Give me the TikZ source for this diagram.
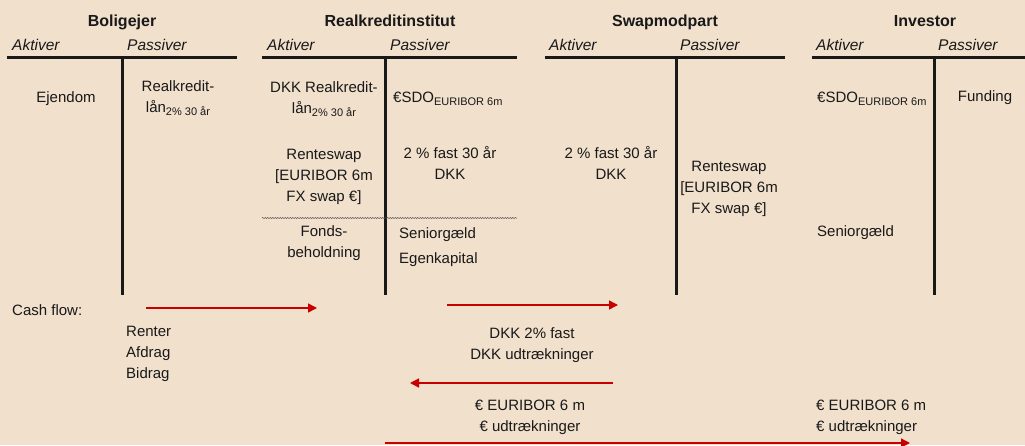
\documentclass[tikz,border=0pt]{standalone}
\usepackage{fontspec}
\setmainfont{Liberation Sans}
\usetikzlibrary{arrows.meta,decorations.pathmorphing}
\definecolor{paper}{RGB}{240,224,204}
\definecolor{flowred}{RGB}{200,0,0}
\definecolor{ink}{RGB}{25,25,25}
\newcommand{\lowtxt}[1]{\raisebox{-3.5pt}{\fontsize{11}{11}\selectfont #1}}

\begin{document}
\begin{tikzpicture}[x=1pt,y=-1pt,
  every node/.style={font=\fontsize{15}{21}\selectfont,text=ink,inner sep=0pt},
  title/.style={font=\fontsize{16}{18}\selectfont\bfseries,anchor=base},
  side/.style={font=\fontsize{15.5}{18}\selectfont\itshape,anchor=base west},
  item/.style={anchor=base,align=center},
  itemw/.style={anchor=base west,align=left},
  tline/.style={line width=3pt,ink},
  flow/.style={flowred,line width=1.4pt,-{Triangle[length=9pt,width=9pt]}}]
  \fill[paper] (0,0) rectangle (1025,445);
  \useasboundingbox (0,0) rectangle (1025,445);
  % T-accounts
  \foreach \xl/\xm/\xr in {7/122/237,262/385/517,545/676/785,812/934/1025}{
    \draw[tline] (\xl,57)--(\xr,57);
    \draw[tline] (\xm,57)--(\xm,295);
  }
  \node[title] (bolig) at (122,26) {Boligejer};
  \node[title] (rki) at (390,26) {Realkreditinstitut};
  \node[title] (swp) at (665,26) {Swapmodpart};
  \node[title] (inv) at (925,26) {Investor};
  \node[side] (boligA) at (12,50) {Aktiver};
  \node[side] (boligP) at (127,50) {Passiver};
  \node[side] (rkiA) at (267,50) {Aktiver};
  \node[side] (rkiP) at (390,50) {Passiver};
  \node[side] (swpA) at (549,50) {Aktiver};
  \node[side] (swpP) at (680,50) {Passiver};
  \node[side] (invA) at (816,50) {Aktiver};
  \node[side] (invP) at (938,50) {Passiver};
  % Boligejer (base = last line)
  \node[item] (ejendom) at (66,102) {Ejendom};
  \node[item] (boligLaan) at (178,112) {Realkredit-\\l\aa n\lowtxt{2\% 30 år}};
  % Realkreditinstitut
  \node[item] (rkiLaan) at (324,113) {DKK Realkredit-\\l\aa n\lowtxt{2\% 30 år}};
  \node[itemw] (rkiSdo) at (393,102) {€SDO\lowtxt{EURIBOR 6m}};
  \node[item] (rkiSwap) at (324,201) {Renteswap\\{[}EURIBOR 6m\\FX swap €]};
  \node[item] (rkiFast) at (450,179) {2 \% fast 30 år\\DKK};
  \draw[gray!60!black,line width=0.5pt,decorate,
    decoration={snake,amplitude=0.5pt,segment length=2.5pt}] (262,218)--(517,218);
  \node[item] (rkiFonds) at (324,257) {Fonds-\\beholdning};
  \node[itemw] (rkiSenior) at (399,263) {Seniorgæld\\[4pt]Egenkapital};
  % Swapmodpart
  \node[item] (swpFast) at (611,179) {2 \% fast 30 år\\DKK};
  \node[item] (swpSwap) at (729,213) {Renteswap\\{[}EURIBOR 6m\\FX swap €]};
  % Investor
  \node[itemw] (invSdo) at (817,102) {€SDO\lowtxt{EURIBOR 6m}};
  \node[item] (invFund) at (985,101) {Funding};
  \node[itemw] (invSenior) at (817,236) {Seniorgæld};
  % cash flow
  \node[itemw] (cfLabel) at (12,315) {Cash flow:};
  \node[itemw] (cfBolig) at (126,378) {Renter\\Afdrag\\Bidrag};
  \node[item] (cfDkk) at (532,359) {DKK 2\% fast\\DKK udtrækninger};
  \node[item] (cfEur) at (530,431) {€ EURIBOR 6 m\\€ udtrækninger};
  \node[itemw] (cfInv) at (816,431) {€ EURIBOR 6 m\\€ udtrækninger};
  \coordinate (f1a) at (146,308);
  \coordinate (f1b) at (317,308);
  \coordinate (f2a) at (447,305);
  \coordinate (f2b) at (618,305);
  \coordinate (f3a) at (613,383);
  \coordinate (f3b) at (410,383);
  \coordinate (f4a) at (385,443);
  \coordinate (f4b) at (910,443);
  \draw[flow] (f1a)--(f1b);
  \draw[flow] (f2a)--(f2b);
  \draw[flow] (f3a)--(f3b);
  \draw[flow] (f4a)--(f4b);
\end{tikzpicture}
\end{document}
